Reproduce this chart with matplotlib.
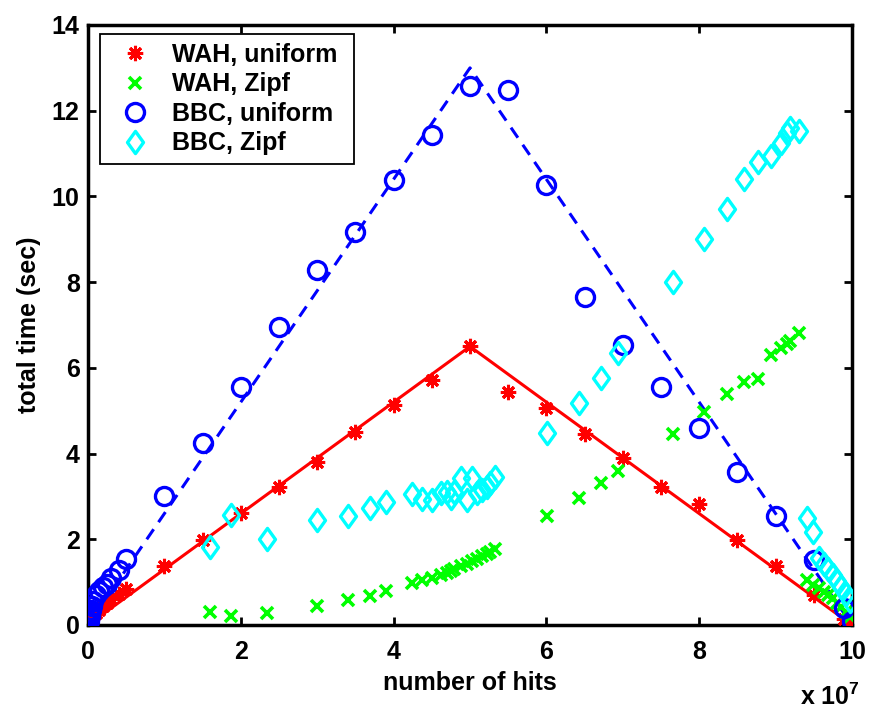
import matplotlib
matplotlib.use("Agg")
import matplotlib.pyplot as plt
from matplotlib.path import Path

plt.rcParams['font.family'] = ['Liberation Sans', 'DejaVu Sans']
plt.rcParams['font.weight'] = 'bold'
plt.rcParams['mathtext.fontset'] = 'custom'
plt.rcParams['mathtext.bf'] = 'Liberation Sans:bold'
plt.rcParams['mathtext.rm'] = 'Liberation Sans:bold'

# ---- data (hits in units of 10^7, time in sec) ----
uniform_x = [0.0, 0.01, 0.02, 0.03, 0.04, 0.05, 0.07, 0.1, 0.15, 0.2, 0.25, 0.3, 0.4, 0.5,
             1.0, 1.5, 2.0, 2.5, 3.0, 3.5, 4.0, 4.5, 5.0, 5.5, 6.0, 6.5, 7.0, 7.5,
             8.0, 8.5, 9.0, 9.5, 9.9, 10.0]
wah_uniform = [0.0, 0.04, 0.07, 0.09, 0.11, 0.15, 0.2, 0.28, 0.36, 0.45, 0.52, 0.6, 0.72, 0.85,
               1.38, 1.98, 2.61, 3.22, 3.8, 4.5, 5.13, 5.72, 6.5, 5.44, 5.06, 4.46, 3.9, 3.22,
               2.82, 1.98, 1.38, 0.7, 0.15, 0.02]
bbc_uniform = [0.05, 0.1, 0.2, 0.28, 0.36, 0.45, 0.55, 0.7, 0.8, 0.89, 0.95, 1.1, 1.28, 1.54,
               3.01, 4.25, 5.55, 6.95, 8.28, 9.17, 10.38, 11.43, 12.58, 12.48, 10.27, 7.65, 6.53, 5.55,
               4.6, 3.57, 2.55, 1.52, 0.4, 0.1]

zipf_x = [1.6, 1.87, 2.34, 3.0, 3.4, 3.69, 3.9, 4.24, 4.37, 4.50, 4.62, 4.70, 4.75, 4.79,
          4.88, 4.96, 5.03, 5.09, 5.16, 5.22, 5.26, 5.33, 6.01, 6.43, 6.71, 6.94, 7.66, 8.06,
          8.36, 8.59, 8.77, 8.94, 9.07, 9.15, 9.19, 9.30, 9.41, 9.49, 9.57, 9.63, 9.69, 9.75,
          9.80, 9.86, 9.92, 9.97]
wah_zipf = [0.3, 0.21, 0.28, 0.44, 0.58, 0.68, 0.8, 0.98, 1.05, 1.1, 1.17, 1.22, 1.25, 1.3,
            1.37, 1.43, 1.5, 1.55, 1.6, 1.66, 1.7, 1.77, 2.54, 2.96, 3.31, 3.59, 4.46, 4.97,
            5.39, 5.67, 5.74, 6.3, 6.46, 6.55, 6.63, 6.81, 1.05, 0.93, 0.86, 0.77, 0.7, 0.63,
            0.51, 0.42, 0.3, 0.19]
bbc_zipf = [1.82, 2.57, 2.0, 2.45, 2.54, 2.73, 2.88, 3.05, 2.94, 2.92, 3.08, 3.10, 2.96, 3.10,
            3.43, 2.92, 3.43, 3.08, 3.15, 3.22, 3.31, 3.45, 4.48, 5.18, 5.76, 6.35, 8.0, 9.0,
            9.7, 10.4, 10.8, 10.94, 11.25, 11.48, 11.6, 11.53, 2.5, 2.17, 1.56, 1.42, 1.3, 1.17,
            1.03, 0.88, 0.72, 0.55]

line_x = [0, 5, 10]
wah_line = [0, 6.5, 0]
bbc_line = [0, 13, 0]

labels = ['WAH, uniform', 'WAH, Zipf', 'BBC, uniform', 'BBC, Zipf']
xticks = [0, 2, 4, 6, 8, 10]
yticks = [0, 2, 4, 6, 8, 10, 12, 14]

# ---- figure ----
fig = plt.figure(figsize=(8.72, 7.11), dpi=100)
ax = fig.add_axes([88/872, 86/711, 764/872, 600/711])

diamond = Path([(0, 1), (0.72, 0), (0, -1), (-0.72, 0), (0, 1)],
               [Path.MOVETO, Path.LINETO, Path.LINETO, Path.LINETO, Path.CLOSEPOLY])

ax.plot(line_x, wah_line, '-', color='#ff0000', lw=2.2, zorder=2)
ax.plot(line_x, bbc_line, color='#0000ff', lw=2.2, ls=(0, (4, 2.8)), zorder=2)

ax.plot(uniform_x, wah_uniform, ls='none', marker=(8, 2, 0), ms=11, mew=2.2,
        color='#ff0000', label=labels[0] + ' ', zorder=3)
ax.plot(zipf_x, wah_zipf, ls='none', marker='x', ms=9, mew=2.6,
        color='#00ff00', label=labels[1], zorder=3)
ax.plot(uniform_x, bbc_uniform, ls='none', marker='o', ms=13, mew=2.4,
        mfc='none', mec='#0000ff', label=labels[2], zorder=3)
ax.plot(zipf_x, bbc_zipf, ls='none', marker=diamond, ms=16, mew=2.4,
        mfc='none', mec='#00ffff', label=labels[3], zorder=3)

ax.set_xlim(0, 10)
ax.set_ylim(0, 14)
ax.set_xticks(xticks)
ax.set_yticks(yticks)
ax.set_xticklabels([str(t) for t in xticks])
ax.set_yticklabels([str(t) for t in yticks])
ax.tick_params(direction='in', length=6, width=2, top=True, right=True,
               labelsize=18, pad=8)
ax.tick_params(axis='x', pad=11)
ax.tick_params(axis='y', pad=6)
for lab in ax.get_xticklabels() + ax.get_yticklabels():
    lab.set_fontweight('bold')
for sp in ax.spines.values():
    sp.set_linewidth(2.5)

ax.set_xlabel('number of hits', fontsize=18, fontweight='bold', labelpad=5)
ax.set_ylabel('total time (sec)', fontsize=18, fontweight='bold', labelpad=8)
ax.text(1.010, -0.134, r'x 10$^{\mathbf{7}}$', transform=ax.transAxes,
        ha='right', va='baseline', fontsize=18, fontweight='bold')

leg = ax.legend(loc='upper left', bbox_to_anchor=(0.0157, 0.985), borderaxespad=0,
                fancybox=False, framealpha=1, edgecolor='black',
                labelspacing=0.22, handlelength=2.1, handletextpad=0.45, borderpad=0.35,
                prop={'weight': 'bold', 'size': 18})
leg.get_frame().set_linewidth(1.3)

fig.savefig('out.png', dpi=100)
